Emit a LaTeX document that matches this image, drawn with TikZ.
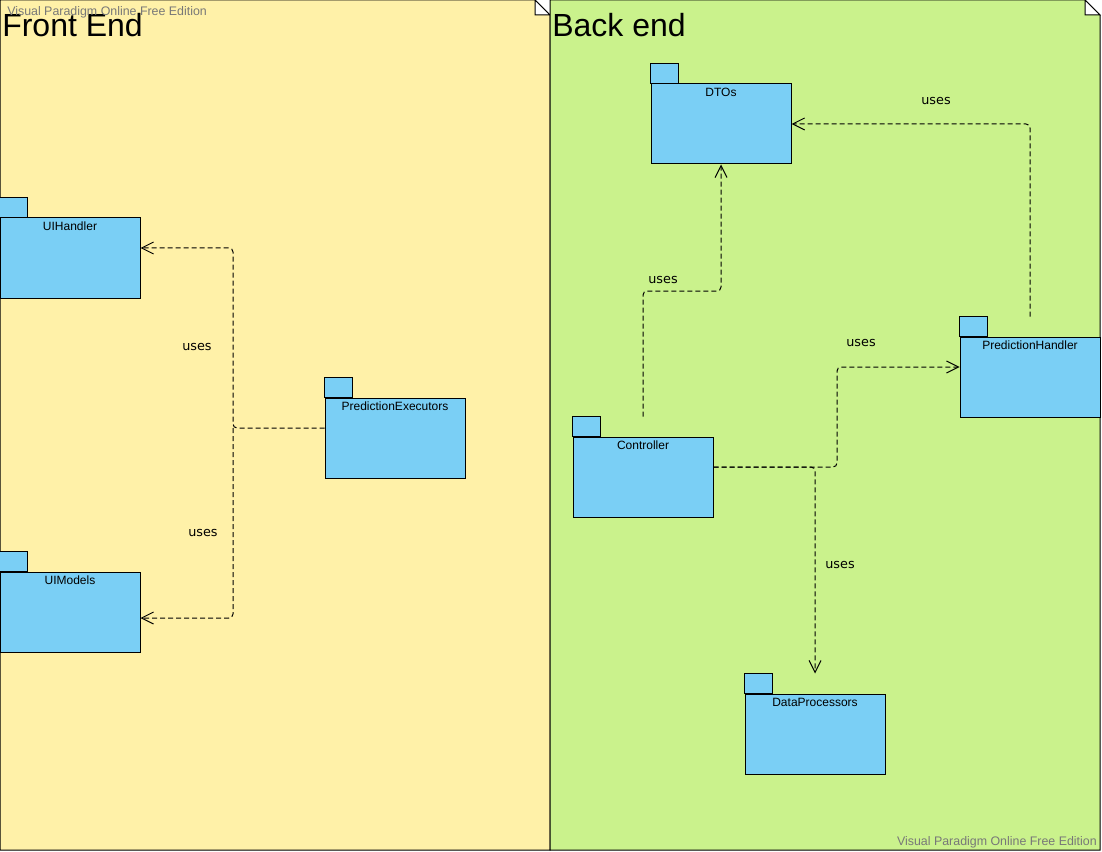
\documentclass[tikz,border=0pt]{standalone}
\usepackage{fontspec}
\setmainfont{Liberation Sans}
\newfontfamily\usesfont{DejaVu Sans}
\usetikzlibrary{arrows.meta}

\definecolor{feyellow}{RGB}{255,241,168}
\definecolor{begreen}{RGB}{202,242,140}
\definecolor{pkgblue}{RGB}{122,207,245}
\definecolor{vpgray}{RGB}{120,120,120}

\tikzset{
  pkgbody/.style={draw, fill=pkgblue, minimum width=105pt, minimum height=60pt, inner sep=0pt, line width=0.75pt},
  pkgtab/.style={draw, fill=pkgblue, line width=0.75pt},
  pkgname/.style={anchor=north, inner sep=0pt, yshift=-3.2pt, font=\fontsize{9}{10}\selectfont},
  uses/.style={line width=0.75pt, dash pattern=on 3.75pt off 2.25pt, rounded corners=3pt, -{Straight Barb[length=9pt,width=9pt]}},
  useslabel/.style={inner sep=0pt, font=\usesfont\fontsize{9.6}{11}\selectfont},
  frametitle/.style={anchor=west, inner sep=0pt, font=\fontsize{24}{26}\selectfont},
  watermark/.style={inner sep=0pt, text=vpgray, font=\fontsize{9.3}{10}\selectfont}
}

\begin{document}
\begin{tikzpicture}[line cap=butt,line join=miter,x=0.75pt,y=-0.75pt]
\useasboundingbox (0,0) rectangle (1102,852);
%frames
\draw [line width=0.75pt, fill=feyellow] (0,0) -- (535,0) -- (550,15) -- (550,850) -- (0,850) -- cycle;%front end
\draw [line width=0.75pt, fill=white] (535,0) -- (535,15) -- (550,15) -- cycle;%fold
\draw [line width=0.75pt, fill=begreen] (550,0) -- (1085,0) -- (1100,15) -- (1100,850) -- (550,850) -- cycle;%back end
\draw [line width=0.75pt, fill=white] (1085,0) -- (1085,15) -- (1100,15) -- cycle;%fold
%titles
\node[frametitle] (fetitle) at (2,25) {Front End};
\node[frametitle] (betitle) at (552,25) {Back end};
\node[watermark, anchor=west] (wmtop) at (7,12) {Visual Paradigm Online Free Edition};
\node[watermark, anchor=east] (wmbot) at (1097,842) {Visual Paradigm Online Free Edition};
%%%%packages front end
\node[pkgbody] (uih) at (70,258) {};
\draw [pkgtab] (uih.north west) rectangle ++(28,-20);
\node[pkgname] at (uih.north) {UIHandler};
\node[pkgbody] (uim) at (70,612) {};
\draw [pkgtab] (uim.north west) rectangle ++(28,-20);
\node[pkgname] at (uim.north) {UIModels};
\node[pkgbody] (pex) at (395,438) {};
\draw [pkgtab] (pex.north west) rectangle ++(28,-20);
\node[pkgname] at (pex.north) {PredictionExecutors};
%%%%packages back end
\node[pkgbody] (dto) at (721,124) {};
\draw [pkgtab] (dto.north west) rectangle ++(28,-20);
\node[pkgname] at (dto.north) {DTOs};
\node[pkgbody] (ctl) at (643,477) {};
\draw [pkgtab] (ctl.north west) rectangle ++(28,-20);
\node[pkgname] at (ctl.north) {Controller};
\node[pkgbody] (phd) at (1030,377) {};
\draw [pkgtab] (phd.north west) rectangle ++(28,-20);
\node[pkgname] at (phd.north) {PredictionHandler};
\node[pkgbody] (dpr) at (815,734) {};
\draw [pkgtab] (dpr.north west) rectangle ++(28,-20);
\node[pkgname] at (dpr.north) {DataProcessors};
%%%lines front end
\coordinate (fj) at (233,428);%split
\draw [uses] ([yshift=7.5pt]pex.west) -- (fj) |- ([yshift=7.5pt]uih.east);
\draw [uses] (fj) |- ([yshift=-4.5pt]uim.east);
%%%lines back end
\coordinate (cd) at (643,291);
\draw [uses] ([yshift=15pt]ctl.north) -- (cd) -| (dto.south);%controller to dtos
\draw [uses] ([yshift=15pt]phd.north) |- (dto.east);%handler to dtos
\coordinate (cp) at (837,420);
\draw [uses] ([yshift=7.5pt]ctl.east) -| (cp) |- ([yshift=7.5pt]phd.west);%controller to handler
\draw [uses] ([yshift=7.5pt]ctl.east) -| ([yshift=15pt]dpr.north);%controller to processors
%labels
\node[useslabel] (u1) at (197,347) {uses};
\node[useslabel] (u2) at (203,533) {uses};
\node[useslabel] (u3) at (663,280) {uses};
\node[useslabel] (u4) at (936,101) {uses};
\node[useslabel] (u5) at (861,343) {uses};
\node[useslabel] (u6) at (840,565) {uses};
\end{tikzpicture}
\end{document}
